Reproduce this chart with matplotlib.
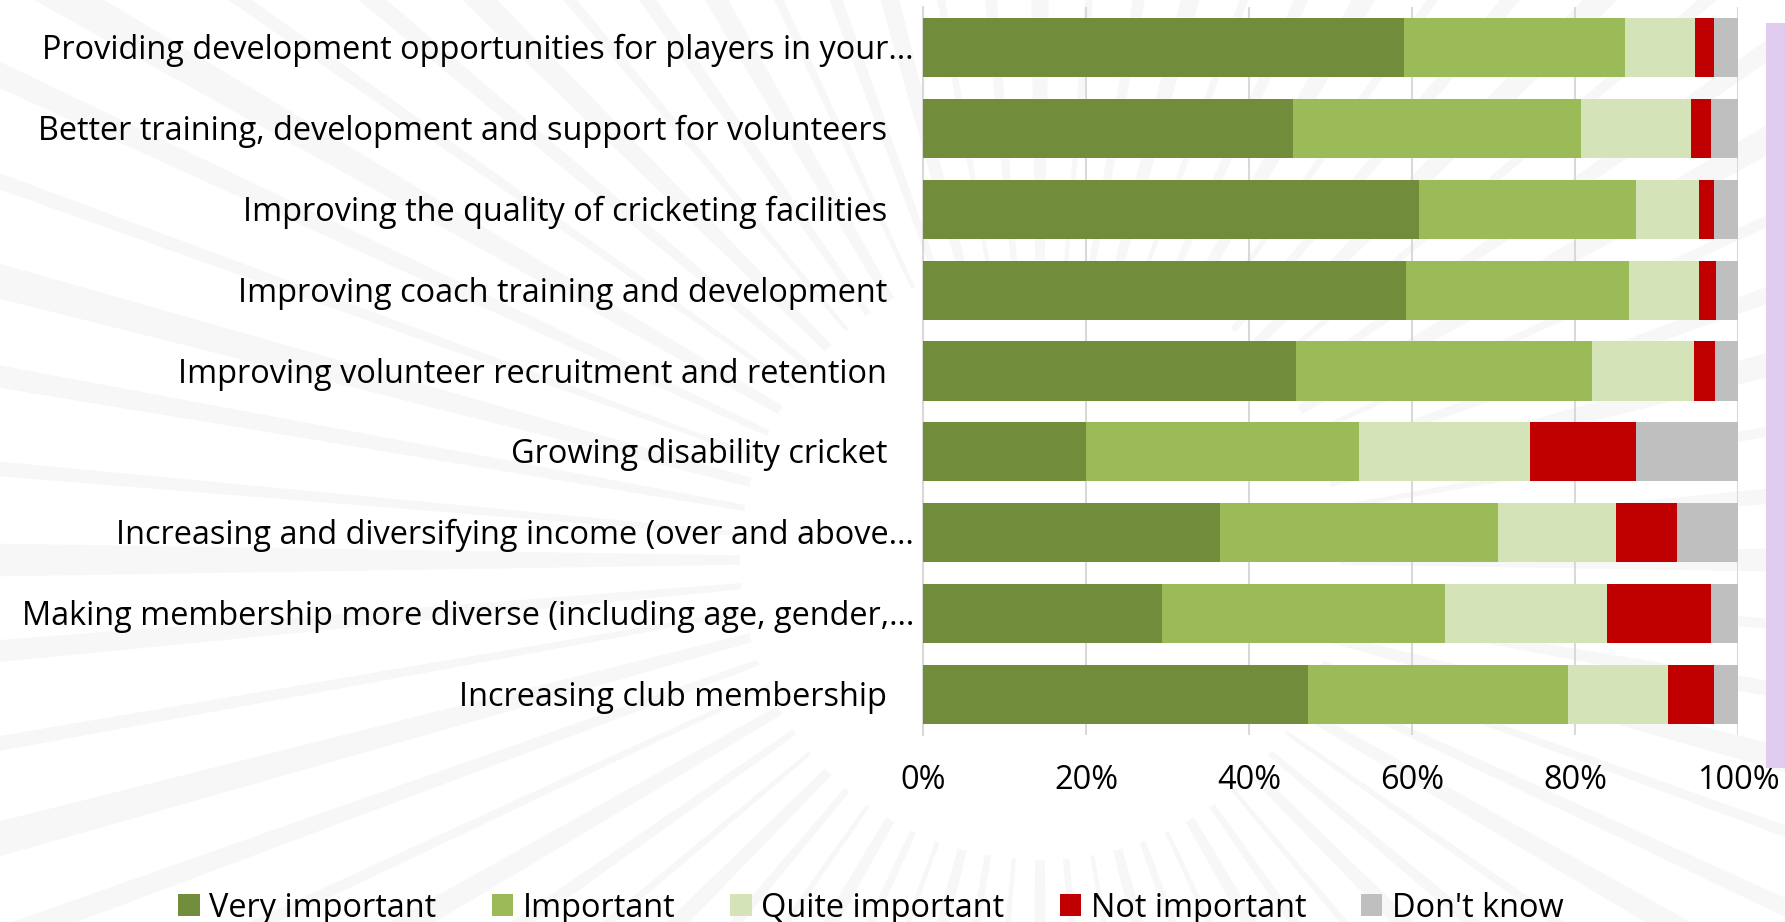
"""
Club priorities survey: 100% stacked horizontal bars
"""

import numpy as np
import matplotlib
matplotlib.use("Agg")
import matplotlib.pyplot as plt
from matplotlib.patches import Polygon, Rectangle, Patch

# ── data ──────────────────────────────────────────────────────────────────────

categories = [
    "Providing development opportunities for players in your…",
    "Better training, development and support for volunteers",
    "Improving the quality of cricketing facilities",
    "Improving coach training and development",
    "Improving volunteer recruitment and retention",
    "Growing disability cricket",
    "Increasing and diversifying income (over and above…",
    "Making membership more diverse (including age, gender,…",
    "Increasing club membership",
]

series_names = ["Very important", "Important", "Quite important",
                "Not important", "Don't know"]

very_important  = [59.0, 45.4, 60.9, 59.3, 45.8, 20.0, 36.4, 29.3, 47.3]
important       = [27.1, 35.3, 26.6, 27.3, 36.3, 33.5, 34.2, 34.8, 31.8]
quite_important = [ 8.6, 13.5,  7.7,  8.6, 12.5, 21.0, 14.4, 19.8, 12.3]
not_important   = [ 2.3,  2.5,  1.8,  2.1,  2.6, 13.0,  7.5, 12.8,  5.7]
dont_know       = [ 3.0,  3.3,  3.0,  2.7,  2.8, 12.5,  7.5,  3.3,  2.9]

xticks = [0, 20, 40, 60, 80, 100]
xtick_labels = ["0%", "20%", "40%", "60%", "80%", "100%"]

colors = ["#718C3B", "#9BBB59", "#D5E3B8", "#C00000", "#BFBFBF"]

# ── figure ────────────────────────────────────────────────────────────────────

FONT = ["Open Sans", "DejaVu Sans"]
FS = 23.4
plt.rcParams["font.family"] = FONT

W, H = 1785, 922
fig = plt.figure(figsize=(W / 100, H / 100), dpi=100)

# faint sunburst decoration behind the chart
bg = fig.add_axes([0, 0, 1, 1], zorder=-5)
bg.set_xlim(0, W)
bg.set_ylim(H, 0)
bg.axis("off")
cx, cy = 1040, 560
for i, a in enumerate(np.arange(0, 360, 5.0)):
    half = [0.9, 0.4, 0.6][i % 3]
    r0, r1 = 300, 1700
    a0, a1 = np.radians(a - half), np.radians(a + half)
    pts = [(cx + r0 * np.cos(a0), cy + r0 * np.sin(a0)),
           (cx + r1 * np.cos(a0), cy + r1 * np.sin(a0)),
           (cx + r1 * np.cos(a1), cy + r1 * np.sin(a1)),
           (cx + r0 * np.cos(a1), cy + r0 * np.sin(a1))]
    bg.add_patch(Polygon(pts, closed=True, facecolor="#F7F7F7",
                         edgecolor="none"))

# lavender strip at the right edge
fig.patches.append(Rectangle((1766 / W, 1 - 768 / H), 19 / W, 745 / H,
                             transform=fig.transFigure,
                             facecolor="#E0CCEF", edgecolor="none"))

ax = fig.add_axes([923 / W, 1 - 735 / H, 815 / W, 728 / H])
ax.patch.set_alpha(0)

y = np.arange(len(categories))
left = np.zeros(len(categories))
for name, vals, col in zip(series_names,
                           [very_important, important, quite_important,
                            not_important, dont_know], colors):
    ax.barh(y, vals, left=left, height=0.73, color=col, linewidth=0,
            label=name, zorder=3)
    left += np.array(vals)

ax.set_xlim(0, 100)
ax.set_ylim(len(categories) - 0.5, -0.5)
ax.set_xticks(xticks)
ax.set_xticklabels(xtick_labels, fontsize=FS)
ax.set_yticks(y)
ax.set_yticklabels([])
ax.tick_params(axis="both", length=0)
ax.tick_params(axis="x", pad=21)
ax.grid(axis="x", color="#D9D9D9", linewidth=1.5, zorder=0)
for s in ["top", "right", "bottom"]:
    ax.spines[s].set_visible(False)
ax.spines["left"].set_color("#D9D9D9")
ax.spines["left"].set_linewidth(1.5)

# category labels: truncated ones sit closer to the axis than full ones
for yi, lab in zip(y, categories):
    off = -9 if lab.endswith("…") else -36
    ax.annotate(lab, xy=(0, yi), xycoords=("axes fraction", "data"),
                xytext=(off, -3), textcoords="offset pixels",
                ha="right", va="center", fontsize=FS)

handles = [Patch(facecolor=c, edgecolor="none", label=n)
           for n, c in zip(series_names, colors)]
fig.legend(handles=handles, loc="center", bbox_to_anchor=(0.488, 0.015),
           ncol=5, frameon=False, fontsize=FS, handlelength=0.65,
           handleheight=0.65, handletextpad=0.3, columnspacing=1.7)

fig.savefig("out.png", dpi=100)
